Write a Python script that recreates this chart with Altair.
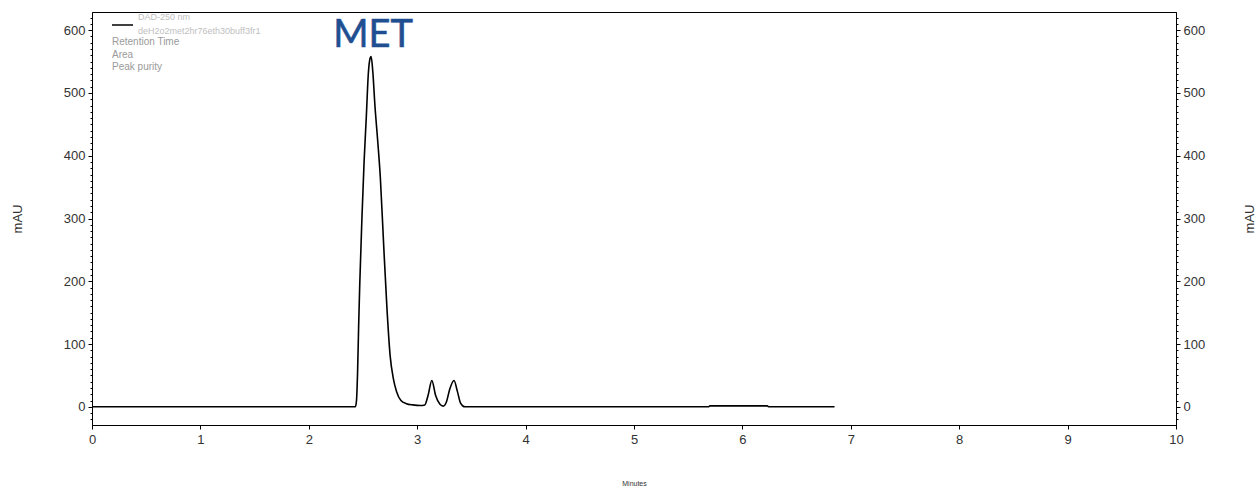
import altair as alt
import pandas as pd

# Chromatogram trace (minutes, mAU)
minutes = [0.0, 2.43, 2.44, 2.45, 2.46, 2.47, 2.49, 2.51, 2.53, 2.55, 2.565, 2.575,
           2.59, 2.61, 2.635, 2.66, 2.69, 2.72, 2.75, 2.78, 2.81, 2.85, 2.90, 2.96,
           3.03, 3.07, 3.10, 3.135, 3.17, 3.21, 3.24, 3.27, 3.30, 3.34, 3.37, 3.40,
           3.44, 5.69, 5.70, 6.23, 6.24, 6.85]
mau = [0, 0, 10, 55, 130, 195, 300, 390, 460, 533, 555, 558,
       535, 480, 425, 365, 260, 160, 82, 45, 24, 10, 5, 3,
       2, 3, 18, 42, 18, 4, 1, 8, 28, 42, 25, 6,
       0, 0, 1.5, 1.5, 0, 0]

x_ticks = list(range(0, 11))
y_ticks = list(range(-20, 621, 10))
legend_lines = ["DAD-250 nm", "deH2o2met2hr76eth30buff3fr1"]
legend_fields = ["Retention Time", "Area", "Peak purity"]
peak_label = "MET"

df = pd.DataFrame({"Minutes": minutes, "mAU": mau})

FONT = "Liberation Sans"
y_dom = [-29, 629]

x_enc = alt.X(
    "Minutes:Q",
    scale=alt.Scale(domain=[0, 10], nice=False, zero=False),
    axis=alt.Axis(values=x_ticks, title="Minutes", titleFontSize=7, titleFont=FONT,
                  titleFontWeight="normal", titleColor="#333", titlePadding=33,
                  labelFont=FONT, labelFontSize=13, labelColor="#333", labelPadding=4,
                  labelFlush=False,
                  tickSize=4, tickColor="black", domainColor="black", grid=False),
)

is_major = "datum.value % 100 === 0"

def y_axis(orient):
    return alt.Axis(
        orient=orient, values=y_ticks,
        labelExpr=is_major + " ? datum.label : ''",
        labelOverlap=False, labelFont=FONT, labelFontSize=13, labelColor="#333",
        labelPadding=3,
        tickSize={"condition": {"test": is_major, "value": 4}, "value": 2},
        tickColor="black", domainColor="black", grid=False,
        title="mAU", titleFont=FONT, titleFontSize=13, titleFontWeight="normal",
        titleColor="#333", titleAngle=270, titlePadding=39 if orient == "left" else 52,
    )

line_left = alt.Chart(df).mark_line(color="black", strokeWidth=1.6, interpolate="monotone").encode(
    x=x_enc,
    y=alt.Y("mAU:Q", scale=alt.Scale(domain=y_dom, nice=False, zero=False), axis=y_axis("left")),
)
line_right = alt.Chart(df).mark_line(opacity=0, interpolate="monotone").encode(
    x=x_enc,
    y=alt.Y("mAU:Q", scale=alt.Scale(domain=y_dom, nice=False, zero=False), axis=y_axis("right")),
)

one = pd.DataFrame({"k": [0]})

legend_rule = alt.Chart(one).mark_rule(color="black", strokeWidth=1.5).encode(
    x=alt.value(20), x2=alt.value(41), y=alt.value(13))

texts = []
for i, t in enumerate(legend_lines):
    texts.append(alt.Chart(pd.DataFrame({"t": [t]})).mark_text(
        align="left", baseline="middle", font=FONT, fontSize=9, color="#c0c0c0").encode(
        text="t:N", x=alt.value(46), y=alt.value(5 + 14 * i)))
for i, t in enumerate(legend_fields):
    texts.append(alt.Chart(pd.DataFrame({"t": [t]})).mark_text(
        align="left", baseline="middle", font=FONT, fontSize=10, color="#9a9a9a").encode(
        text="t:N", x=alt.value(20), y=alt.value(30 + 12.5 * i)))

met = alt.Chart(pd.DataFrame({"t": [peak_label]})).mark_text(
    align="center", baseline="middle", font="Lato", fontSize=38, color="#1f4f91",
    stroke="#1f4f91", strokeWidth=0.6).encode(
    text="t:N", x=alt.value(281), y=alt.value(24))

chart = alt.layer(line_left, line_right, legend_rule, *texts, met).resolve_scale(
    y="independent"
).properties(
    width=1084, height=413,
    autosize="none",
    padding={"left": 92, "top": 12, "right": 82, "bottom": 66},
).configure_view(stroke="black", strokeWidth=1)

chart.save("out.html", embed_options={"renderer": "svg", "actions": False})
